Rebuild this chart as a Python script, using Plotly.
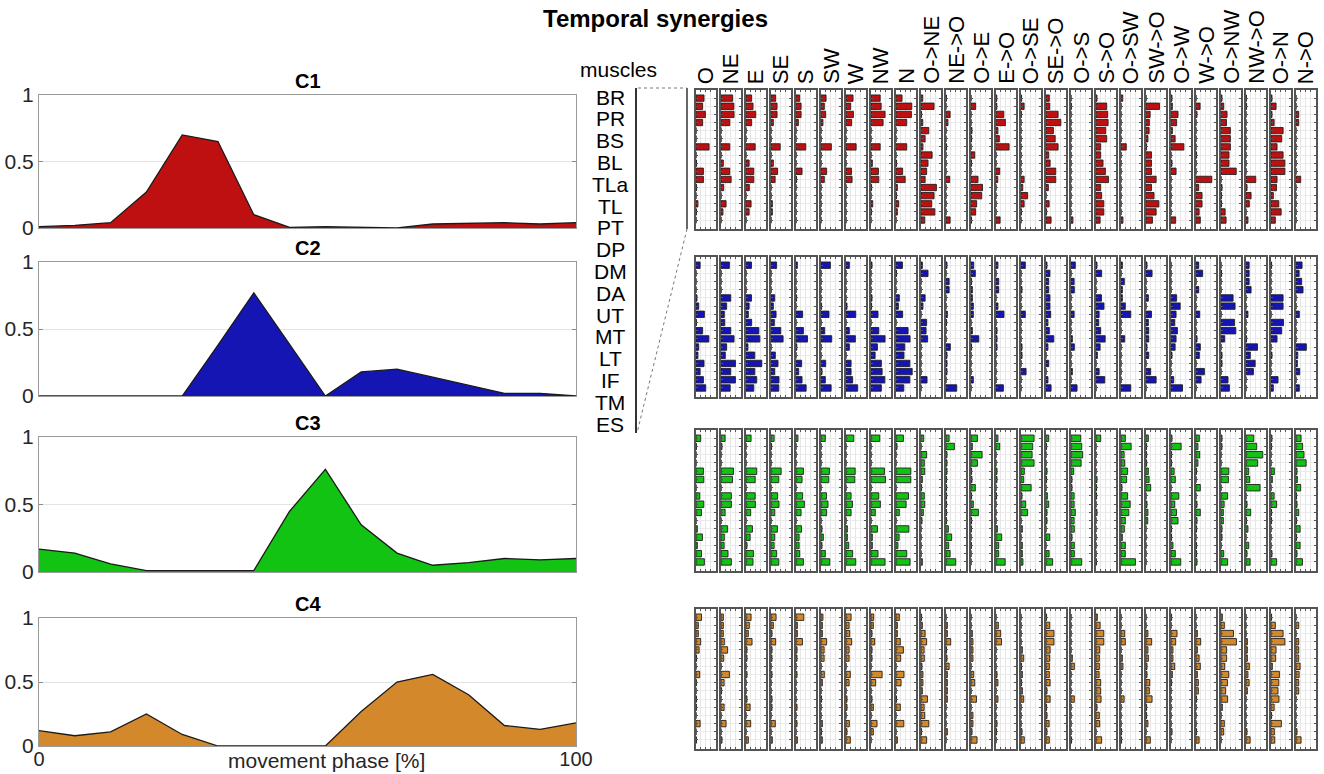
import plotly.graph_objects as go

# ---------------- data ----------------
phase = [0, 6.67, 13.33, 20, 26.67, 33.33, 40, 46.67, 53.33, 60, 66.67, 73.33, 80, 86.67, 93.33, 100]

C1 = [0.01, 0.02, 0.04, 0.27, 0.70, 0.65, 0.10, 0.005, 0.01, 0.005, 0.0, 0.03, 0.035, 0.04, 0.03, 0.04]
C2 = [0.0, 0.0, 0.0, 0.0, 0.0, 0.38, 0.77, 0.385, 0.0, 0.18, 0.20, 0.14, 0.08, 0.02, 0.02, 0.0]
C3 = [0.17, 0.14, 0.06, 0.01, 0.01, 0.01, 0.01, 0.45, 0.76, 0.35, 0.14, 0.05, 0.07, 0.10, 0.09, 0.10]
C4 = [0.12, 0.08, 0.11, 0.25, 0.09, 0.0, 0.0, 0.0, 0.0, 0.27, 0.50, 0.56, 0.40, 0.16, 0.13, 0.18]

synergy_names = ["C1", "C2", "C3", "C4"]

muscles = ["BR", "PR", "BS", "BL", "TLa", "TL", "PT", "DP", "DM", "DA", "UT", "MT", "LT", "IF", "TM", "ES"]

directions = ["O", "NE", "E", "SE", "S", "SW", "W", "NW", "N",
              "O->NE", "NE->O", "O->E", "E->O", "O->SE", "SE->O", "O->S", "S->O",
              "O->SW", "SW->O", "O->W", "W->O", "O->NW", "NW->O", "O->N", "N->O"]

# muscle weights per direction (rows follow `directions`, columns follow `muscles`)
W1 = [
    [.41, .34, .48, .34, 0, 0, .67, 0, .03, .38, .38, .03, 0, .10, .02, 0],
    [.60, .66, .67, .45, 0, 0, .45, 0, .12, .45, .52, .14, 0, .26, .10, 0],
    [.29, .36, .50, .29, 0, 0, .47, 0, .16, .40, .40, .17, 0, .26, .16, 0],
    [.24, .31, .31, .12, 0, 0, .47, 0, .12, .34, .21, 0, 0, .07, .07, 0],
    [.19, .26, .26, .12, 0, 0, .50, 0, 0, .31, .03, 0, 0, 0, 0, 0],
    [.26, .17, .24, .10, 0, 0, .53, 0, 0, .29, .17, 0, 0, 0, 0, 0],
    [.36, .24, .38, .29, 0, 0, .52, 0, 0, .28, .31, 0, 0, 0, 0, 0],
    [.47, .52, .72, .62, 0, 0, .47, 0, .07, .38, .40, .03, 0, .09, .02, 0],
    [.31, .81, .79, .55, 0, 0, .55, 0, .03, .34, .47, .07, .03, .14, .07, 0],
    [.09, .67, .03, .09, .40, .21, .10, .57, .36, .29, .21, .79, .67, .55, .71, .19],
    [.02, 0, .21, .10, 0, 0, .03, 0, 0, 0, .19, 0, 0, 0, 0, .21],
    [0, .24, 0, 0, .05, .03, 0, .19, .03, 0, .36, .59, .55, .29, .24, .03],
    [.04, .04, .40, .48, .10, .17, .67, 0, 0, .19, .09, 0, 0, 0, 0, .21],
    [.03, .16, .02, 0, 0, 0, 0, 0, 0, 0, .16, .09, .34, .16, .02, 0],
    [.17, .19, .62, .76, .38, .47, .62, .14, .21, .50, .50, .12, 0, .16, .03, .26],
    [0, .02, 0, 0, 0, 0, 0, 0, 0, 0, 0, 0, 0, 0, 0, .10],
    [.05, .55, .60, .62, .50, .55, .24, .24, .36, .48, .64, .24, .29, .40, .40, .21],
    [.09, 0, 0, 0, 0, 0, .27, 0, 0, 0, 0, 0, 0, 0, 0, .10],
    [0, .69, .21, .17, .16, .10, .03, .28, .28, .28, .52, .28, .41, .66, .52, .33],
    [.05, .07, .36, .29, .07, .21, .66, 0, .05, .26, 0, 0, 0, 0, 0, .24],
    [0, .21, .05, 0, 0, 0, 0, .03, 0, 0, .81, .14, .31, .31, .16, .22],
    [.05, .14, .31, .28, .48, .48, .48, .41, .41, .78, 0, .05, .03, .03, .21, .26],
    [.02, .03, 0, 0, 0, 0, 0, 0, 0, 0, .50, .05, .26, .17, 0, .10],
    [.05, .26, .05, .16, .62, .55, .31, .62, .71, .71, .31, .28, .12, .40, .52, .22],
    [0, 0, .14, .14, 0, 0, 0, 0, 0, 0, .24, 0, 0, 0, 0, 0],
]

W2 = [
    [.21, 0, 0, 0, .05, .14, .43, .02, .34, .66, .14, .10, .41, .21, .38, .50],
    [.43, 0, 0, 0, .50, .29, .17, .19, .50, .67, .29, .22, .74, .50, .74, .47],
    [.28, 0, 0, 0, .28, .16, .12, .29, .66, .71, .10, .45, .81, .45, .55, .40],
    [.29, 0, 0, 0, .19, .12, .26, .17, .50, .62, 0, .22, .36, .19, .41, .40],
    [.07, 0, 0, 0, .03, 0, .34, 0, .38, .59, .04, 0, .29, .14, .31, .52],
    [.48, 0, 0, 0, 0, .03, .41, 0, .19, .55, 0, 0, .24, .05, .22, .52],
    [.17, 0, 0, 0, 0, .05, .50, 0, .17, .48, .17, 0, .26, .26, .34, .60],
    [.05, 0, 0, 0, .05, .03, .36, 0, .40, .72, .33, .21, .53, .57, .71, .53],
    [.33, .03, 0, 0, .17, .12, .34, 0, .62, .72, .45, .41, .71, .83, .71, .40],
    [.07, .36, 0, 0, .21, .10, 0, .29, .26, .34, 0, 0, 0, 0, .31, 0],
    [.05, 0, .16, .16, 0, 0, .07, .03, 0, 0, .22, .05, .05, .05, 0, .55],
    [.14, .22, .03, .07, .07, .12, .12, 0, .07, .40, .03, 0, 0, 0, .12, 0],
    [.10, 0, .14, .14, 0, .10, .41, 0, .05, .05, .05, 0, 0, 0, 0, .38],
    [.22, 0, 0, .05, 0, 0, .22, 0, 0, 0, .05, .05, 0, .26, 0, 0],
    [.05, .20, .14, .14, .20, .20, .24, .10, .17, .40, .10, 0, .14, 0, .10, .26],
    [.22, 0, .16, .17, 0, 0, .16, 0, 0, .07, .17, 0, 0, .07, 0, .31],
    [.05, .29, 0, 0, .28, .41, .16, .14, .24, .47, .21, .07, 0, .16, .45, 0],
    [.07, 0, .17, .07, .07, .22, .50, 0, 0, .19, 0, 0, 0, 0, 0, .50],
    [.05, .31, 0, 0, .12, 0, .28, .12, .14, .14, .05, .14, 0, .24, .52, 0],
    [0, 0, 0, 0, .29, .47, .26, .19, .33, .26, .21, .05, 0, 0, .14, .59],
    [.14, .34, 0, .14, 0, 0, .19, 0, 0, .05, .22, .17, 0, .43, .26, 0],
    [0, .03, 0, 0, .62, .72, 0, .69, .76, .19, 0, .05, .05, 0, .36, .43],
    [.16, .16, .16, .26, 0, 0, .10, 0, 0, .03, .59, .22, .47, .38, 0, 0],
    [.03, 0, 0, 0, .62, .62, 0, .64, .55, .31, 0, .05, 0, 0, .36, .12],
    [.31, .16, .29, .36, 0, 0, .17, 0, 0, 0, .53, .09, .07, .19, 0, .17],
]

W3 = [
    [.24, .02, 0, 0, .38, .40, 0, .19, .40, .28, 0, .07, .33, .07, .28, .43],
    [.21, .05, 0, 0, .64, .59, 0, .53, .53, .21, 0, .34, .17, .16, .36, .53],
    [.26, 0, 0, 0, .55, .47, 0, .47, .48, .24, 0, .33, .21, .05, .38, .36],
    [.16, .03, 0, 0, .52, .40, 0, .34, .41, .19, 0, .33, .19, .16, .29, .40],
    [.10, 0, 0, 0, .38, .31, 0, .34, .43, .26, 0, .28, .16, .16, .19, .38],
    [.22, 0, 0, 0, .43, .40, 0, .28, .36, .29, 0, .05, .12, .05, .22, .45],
    [.40, 0, 0, 0, .47, .45, 0, .26, .33, .26, 0, .07, .07, .14, .34, .50],
    [.45, 0, 0, 0, .69, .74, 0, .40, .48, .22, 0, .33, .07, .07, .36, .72],
    [.38, .05, 0, 0, .76, .76, 0, .64, .52, .17, 0, .66, .16, .10, .55, .72],
    [.14, 0, .29, .17, .19, .07, .03, .17, .19, .12, .05, 0, 0, 0, 0, .07],
    [.16, .43, .05, .05, .05, .03, .03, .03, .03, .03, .03, .12, .29, .14, .21, .50],
    [.33, .07, .57, .33, .03, .05, .22, .03, .12, .38, .03, .02, 0, .02, 0, 0],
    [.10, .19, 0, 0, .05, .05, 0, .03, 0, 0, 0, .07, .29, .14, .14, .47],
    [.67, .60, .57, .67, .17, .14, .52, .05, .24, .34, 0, .07, 0, .07, .07, .10],
    [.14, .03, 0, 0, .05, .03, 0, .07, .14, .05, .05, 0, .19, 0, .16, .34],
    [.50, .55, .60, .52, .14, .05, .05, .16, .16, .22, .16, .17, .05, .17, .17, .55],
    [.24, 0, 0, 0, 0, .05, .03, .03, 0, .05, 0, 0, 0, 0, 0, .02],
    [.22, .52, .16, .19, .34, .29, .05, .34, .47, .40, .22, .17, .07, .22, .22, .74],
    [.12, .03, .03, .03, .12, .16, .24, 0, .05, .10, .09, 0, 0, 0, 0, 0],
    [.05, .52, .03, .03, .16, .22, 0, .40, .19, .28, .36, .03, .03, .10, .22, .50],
    [.17, .10, .19, .10, .03, 0, .22, 0, .05, .22, .05, .03, 0, .03, .03, .05],
    [.05, .05, 0, 0, .40, .38, 0, .34, .16, .12, .12, .05, .05, 0, .14, .34],
    [.40, .55, .86, .60, .14, .19, .72, 0, .05, .24, .03, .10, 0, .14, .05, .21],
    [.05, .03, 0, 0, .17, .07, 0, .16, .29, .03, .03, 0, 0, 0, .05, .29],
    [.26, .34, .41, .52, .05, .07, .24, .03, .05, .14, .03, .21, .03, .21, .05, .33],
]

W4 = [
    [.28, .12, .12, .24, .16, .03, 0, .19, .02, 0, .02, .02, 0, .21, 0, .02],
    [.12, .12, .12, .17, .34, .14, 0, .43, .16, .03, 0, .16, 0, .26, 0, .05],
    [.26, .17, .12, .31, .05, .05, 0, .05, 0, 0, .05, .21, 0, .24, 0, .12],
    [.26, .12, .05, .24, .05, .05, 0, .05, 0, 0, .05, .05, 0, .22, 0, .07],
    [.40, .07, .07, .33, .05, .05, 0, .05, 0, 0, 0, .05, 0, .05, 0, .07],
    [.10, .07, .07, .29, .16, .16, 0, .17, .07, 0, .03, 0, 0, .07, .03, .07],
    [.26, .16, .19, .29, .16, .16, 0, .22, .16, 0, .05, .05, 0, .17, .05, .22],
    [.14, .12, .05, .19, .05, .05, 0, .57, .24, 0, .05, .12, 0, .31, .12, 0],
    [.17, .07, .07, .22, .38, .24, 0, .41, .26, 0, .03, .22, 0, .40, 0, .07],
    [.03, .07, .21, .29, .16, .17, .05, .10, .10, .07, .33, .16, .19, .40, .03, .29],
    [0, .07, .07, .24, .03, .05, .16, .07, .07, .07, .07, 0, 0, 0, .07, 0],
    [0, 0, .07, .10, .10, .10, 0, .14, .19, 0, .28, 0, .10, .10, .05, .31],
    [0, .12, .24, .28, 0, 0, 0, .05, .10, 0, .10, 0, 0, .05, .03, 0],
    [0, 0, 0, 0, .07, .14, .03, .07, .03, .07, .14, 0, 0, 0, .05, .17],
    [.03, .19, .41, .41, .21, .19, .17, .17, .21, .05, .21, .03, .05, .16, .05, .17],
    [0, 0, 0, 0, 0, .07, .17, 0, 0, 0, .17, 0, 0, 0, 0, .03],
    [.07, .21, .40, .40, .19, .17, .17, .16, .24, .24, .26, .05, .17, .19, 0, .29],
    [0, 0, .19, .22, 0, .07, .10, 0, 0, 0, .16, 0, 0, 0, .03, .03],
    [0, 0, .10, .29, .10, .12, .05, .05, .19, .17, .31, .03, .03, .10, 0, .22],
    [.03, 0, .31, .24, .10, .10, .19, .07, .03, 0, 0, 0, 0, 0, .05, 0],
    [0, 0, .07, .24, .07, .16, .22, .07, .12, .12, .03, 0, 0, 0, .03, .16],
    [.07, .17, .64, .79, .29, .29, .19, .40, .33, .24, .34, .07, 0, .17, .14, 0],
    [0, 0, 0, .07, .07, .07, .17, .10, .16, .07, 0, 0, 0, 0, .05, .21],
    [.03, .22, .62, .71, .26, .24, .07, .43, .40, .36, .41, .16, .03, .53, .17, .19],
    [0, .14, 0, .14, .14, .14, .21, .16, .14, .14, 0, 0, 0, 0, .05, .26],
]

y_ticks = [0, 0.5, 1]
x_ticks = [0, 100]

# ---------------- styling / layout ----------------
FIG_W, FIG_H = 1324, 774
FONT = "Liberation Sans, Arial, sans-serif"


def fx(p):
    return p / FIG_W


def fy(p):
    return 1 - p / FIG_H


curves = [C1, C2, C3, C4]
weights = [W1, W2, W3, W4]
colors = ["#BE1010", "#1515B4", "#13C313", "#D3892B"]
left_px = (39, 576)
left_rows = [(95, 228), (262, 396), (437, 572), (618, 746)]
bar_rows = [(90, 229), (257, 397), (430, 571), (609, 749)]
col_x0, col_step, col_w = 696, 25, 19.5

fig = go.Figure()
layout = {}
annotations = []
shapes = []


def axname(kind, n):
    return f"{kind}axis" if n == 1 else f"{kind}axis{n}"


def ref(kind, n):
    return kind if n == 1 else f"{kind}{n}"


# left temporal synergies
for i in range(4):
    n = i + 1
    top, bot = left_rows[i]
    fig.add_trace(go.Scatter(
        x=phase, y=curves[i], mode="lines", fill="tozeroy",
        fillcolor=colors[i], line=dict(color="#1a1a1a", width=1.3),
        xaxis=ref("x", n), yaxis=ref("y", n), showlegend=False, hoverinfo="skip"))
    last = (i == 3)
    layout[axname("x", n)] = dict(
        domain=[fx(left_px[0]), fx(left_px[1])], anchor=ref("y", n),
        range=[0, 100], tickvals=x_ticks, ticktext=[str(v) for v in x_ticks],
        showticklabels=last, ticks="inside", ticklen=4, tickcolor="#8a8a8a",
        ticklabelstandoff=-5,
        showline=True, linecolor="#9a9a9a", linewidth=1, mirror="ticks",
        showgrid=False, zeroline=False, automargin=False,
        tickfont=dict(family=FONT, size=20, color="#262626"))
    layout[axname("y", n)] = dict(
        domain=[fy(bot), fy(top)], anchor=ref("x", n),
        range=[0, 1], tickvals=y_ticks, ticktext=["0", "0.5", "1"],
        ticks="inside", ticklen=4, tickcolor="#8a8a8a",
        showline=True, linecolor="#9a9a9a", linewidth=1, mirror="ticks",
        showgrid=True, gridcolor="#e3e3e3", zeroline=False, automargin=False,
        tickfont=dict(family=FONT, size=21, color="#262626"))
    annotations.append(dict(
        text=f"<b>{synergy_names[i]}</b>", x=fx((left_px[0] + left_px[1]) / 2),
        y=fy(top - 1), xref="paper", yref="paper", xanchor="center", yanchor="bottom",
        showarrow=False, font=dict(family=FONT, size=20, color="#000000")))

annotations.append(dict(
    text="movement phase [%]", x=fx(326), y=fy(760), xref="paper", yref="paper",
    xanchor="center", yanchor="middle", showarrow=False,
    font=dict(family=FONT, size=21, color="#262626")))

# bar panels
rows_idx = list(range(1, len(muscles) + 1))
n = 4
for i in range(4):
    top, bot = bar_rows[i]
    for k, d in enumerate(directions):
        n += 1
        x0 = col_x0 + col_step * k
        fig.add_trace(go.Bar(
            x=weights[i][k], y=rows_idx, orientation="h", width=0.78,
            marker=dict(color=colors[i], line=dict(color="#202020", width=0.9)),
            xaxis=ref("x", n), yaxis=ref("y", n), showlegend=False, hoverinfo="skip"))
        layout[axname("x", n)] = dict(
            domain=[fx(x0), fx(x0 + col_w)], anchor=ref("y", n), range=[0, 1],
            tickvals=[0.25, 0.5, 0.75], showticklabels=False,
            ticks="inside", ticklen=2, tickcolor="#555555",
            showline=True, linecolor="#545454", linewidth=1.5, mirror="ticks",
            showgrid=True, gridcolor="#e6e6e6", gridwidth=1, zeroline=False,
            automargin=False)
        layout[axname("y", n)] = dict(
            domain=[fy(bot), fy(top)], anchor=ref("x", n), range=[17.1, 0],
            tickvals=rows_idx, showticklabels=False,
            ticks="inside", ticklen=2, tickcolor="#555555",
            showline=True, linecolor="#545454", linewidth=1.5, mirror="ticks",
            showgrid=True, gridcolor="#ebebeb", gridwidth=1, zeroline=False,
            automargin=False)
        if i == 0:
            annotations.append(dict(
                text=d, textangle=-90, x=fx(x0 + col_w / 2), y=fy(86),
                xref="paper", yref="paper", xanchor="center", yanchor="bottom",
                showarrow=False, font=dict(family=FONT, size=22, color="#000000")))

# muscle labels
annotations.append(dict(
    text="muscles", x=fx(618), y=fy(70), xref="paper", yref="paper",
    xanchor="center", yanchor="middle", showarrow=False,
    font=dict(family=FONT, size=21, color="#000000")))
for j, m in enumerate(muscles):
    annotations.append(dict(
        text=m, x=fx(610), y=fy(97 + j * 21.8), xref="paper", yref="paper",
        xanchor="center", yanchor="middle", showarrow=False,
        font=dict(family=FONT, size=21, color="#000000")))

# title
annotations.append(dict(
    text="<b>Temporal synergies</b>", x=fx(655), y=fy(18), xref="paper", yref="paper",
    xanchor="center", yanchor="middle", showarrow=False,
    font=dict(family=FONT, size=24, color="#000000")))

# zoom-indicator lines
shapes.append(dict(type="line", xref="paper", yref="paper",
                   x0=fx(636), x1=fx(636), y0=fy(88), y1=fy(433),
                   line=dict(color="#000000", width=1.6)))
shapes.append(dict(type="line", xref="paper", yref="paper",
                   x0=fx(687), x1=fx(687), y0=fy(88), y1=fy(229),
                   line=dict(color="#000000", width=1.2)))
shapes.append(dict(type="line", xref="paper", yref="paper",
                   x0=fx(638), x1=fx(687), y0=fy(88), y1=fy(88),
                   line=dict(color="#777777", width=1, dash="dot")))
shapes.append(dict(type="line", xref="paper", yref="paper",
                   x0=fx(687), x1=fx(637), y0=fy(229), y1=fy(433),
                   line=dict(color="#777777", width=1, dash="dot")))

fig.update_layout(
    template="none",
    width=FIG_W, height=FIG_H,
    margin=dict(l=0, r=0, t=0, b=0, pad=0, autoexpand=False),
    paper_bgcolor="#ffffff", plot_bgcolor="#ffffff",
    font=dict(family=FONT, size=21, color="#000000"),
    annotations=annotations, shapes=shapes, showlegend=False,
    **layout)

fig.write_html(
    "out.html",
    config={"displayModeBar": False},
    post_script="document.body.style.margin='0';document.body.style.padding='0';"
                "document.body.style.overflow='hidden';"
                "document.documentElement.style.overflow='hidden';")
